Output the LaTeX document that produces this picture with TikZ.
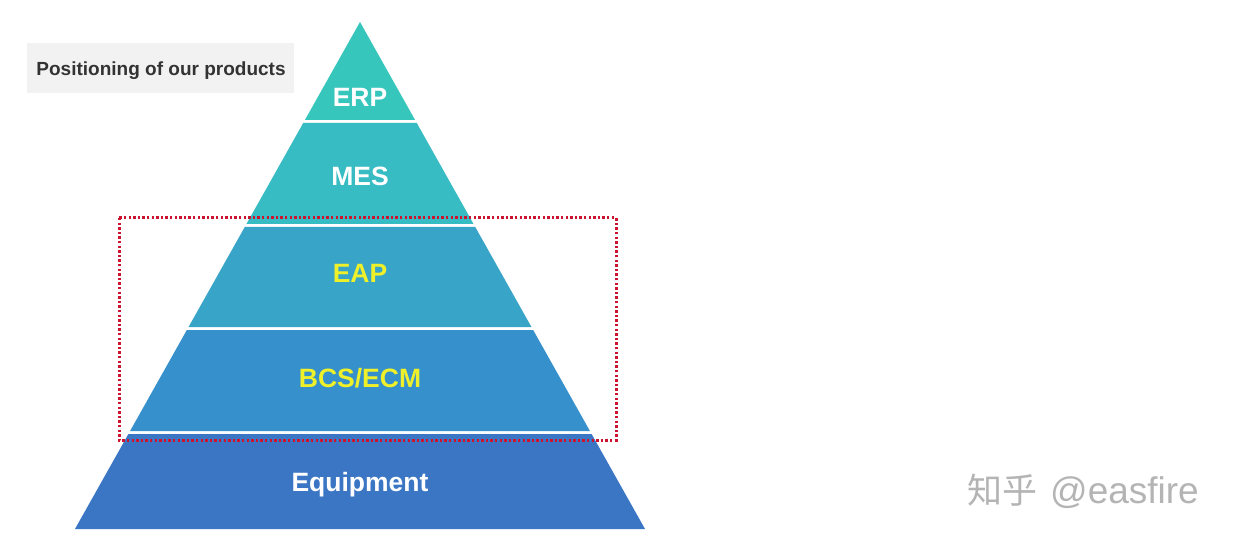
\documentclass[tikz,border=0pt]{standalone}
\usepackage{fontspec}
\setmainfont{Liberation Sans}
\newfontfamily\cjkfont{Noto Sans CJK SC}
\definecolor{cERP}{HTML}{36C6BC}
\definecolor{cMES}{HTML}{36BCC2}
\definecolor{cEAP}{HTML}{38A4C8}
\definecolor{cBCS}{HTML}{3690CC}
\definecolor{cEQ}{HTML}{3A76C4}
\definecolor{labelbg}{HTML}{F2F2F2}
\definecolor{labeltxt}{HTML}{333333}
\definecolor{hiyellow}{HTML}{EEF02A}
\definecolor{dotred}{HTML}{CC1430}
\definecolor{wmgray}{HTML}{B4B4B4}
\tikzset{
  layertext/.style={font=\fontsize{26.5}{30}\selectfont\bfseries, inner sep=0pt, anchor=base},
  whitetext/.style={layertext, text=white},
  yellowtext/.style={layertext, text=hiyellow},
  dotbox/.style={draw=dotred, line width=3pt, dash pattern=on 2.4pt off 2.2pt},
}
% half width of pyramid at height y (pixels, y down)
\newcommand{\hw}[1]{(#1-22)*0.56213}
\newcommand{\layer}[3]{%
  \fill[#3] ({360-\hw{#1}},#1) -- ({360+\hw{#1}},#1) -- ({360+\hw{#2}},#2) -- ({360-\hw{#2}},#2) -- cycle;}
\begin{document}
\begin{tikzpicture}[x=1pt,y=-1pt]
\useasboundingbox[fill=white] (0,0) rectangle (1234,540);
% label
\node[fill=labelbg, minimum width=267pt, minimum height=50pt, inner sep=0pt] (label) at (160.5,68.5) {};
\node[text=labeltxt, inner sep=0pt, anchor=base,
  font=\fontsize{19}{22}\selectfont\bfseries] (labeltext) at (161,76) {Positioning of our products};
% pyramid layers
\fill[cERP] (360,22) -- ({360+\hw{120}},120) -- ({360-\hw{120}},120) -- cycle;
\layer{123}{224}{cMES}
\layer{227}{327}{cEAP}
\layer{330}{431}{cBCS}
\layer{434}{529}{cEQ}
% texts
\node[whitetext] (erp) at (360,107) {ERP};
\node[whitetext] (mes) at (360,186) {MES};
\node[yellowtext] (eap) at (360,282) {EAP};
\node[yellowtext] (bcs) at (360,387) {BCS/ECM};
\node[whitetext] (equip) at (360,491) {Equipment};
% dotted box
\draw[dotbox] (119,218) rectangle (616,440);
% watermark
\node[text=wmgray, inner sep=0pt, anchor=base west] (wm) at (967,503)
  {{\cjkfont\fontsize{35}{38}\selectfont 知乎}\hspace{13pt}{\fontsize{37}{38}\selectfont @easfire}};
\end{tikzpicture}
\end{document}
